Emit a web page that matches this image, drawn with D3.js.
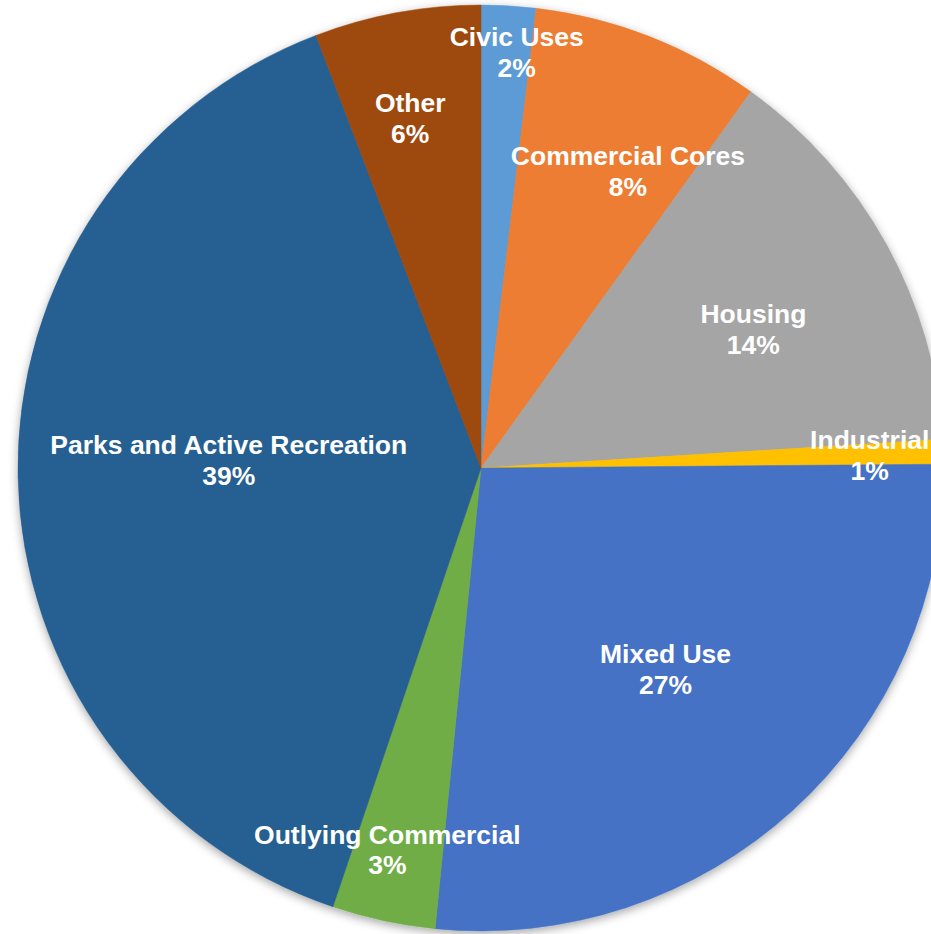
<!DOCTYPE html>
<html>
<head>
<meta charset="utf-8">
<script src="https://cdn.jsdelivr.net/npm/d3@7"></script>
<style>
  html, body { margin: 0; padding: 0; background: #fff; overflow: hidden; }
  svg { display: block; }
</style>
</head>
<body>
<svg id="chart" width="931" height="934"></svg>
<script>
// ---- Data ----
const categories = ["Civic Uses", "Commercial Cores", "Housing", "Industrial",
                    "Mixed Use", "Outlying Commercial", "Parks and Active Recreation", "Other"];
const shares = [1.9, 8.0, 14.1, 0.86, 26.7, 3.6, 39.0, 5.8];
const percentLabels = ["2%", "8%", "14%", "1%", "27%", "3%", "39%", "6%"];
const colors = ["#5B9BD5", "#ED7D31", "#A5A5A5", "#FFC000",
                "#4472C4", "#70AD47", "#255E91", "#9E480E"];

// label placement: [radius fraction, angle offset in degrees]
const labelPlacement = [[0.90, 1.5], [0.715, 5.1], [0.66, 2.0], [0.84, 0.2],
                        [0.59, -0.1], [0.85, 1.6], [0.545, 2.8], [0.77, -1.0]];

const W = 931, H = 934;
const cx = 481, cy = 468, R = 463;

const svg = d3.select("#chart");
const defs = svg.append("defs");
const f = defs.append("filter").attr("id", "shadow")
  .attr("x", "-10%").attr("y", "-10%").attr("width", "120%").attr("height", "120%");
f.append("feDropShadow").attr("dx", 0).attr("dy", 3).attr("stdDeviation", 5)
  .attr("flood-color", "#000").attr("flood-opacity", 0.35);

const g = svg.append("g").attr("transform", `translate(${cx},${cy})`);

const pie = d3.pie().sort(null).value(d => d)(shares);
const arc = d3.arc().innerRadius(0).outerRadius(R);

const slices = g.append("g").attr("filter", "url(#shadow)");
slices.selectAll("path").data(pie).join("path")
  .attr("d", arc)
  .attr("fill", (d, i) => colors[i])
  .attr("stroke", (d, i) => colors[i])
  .attr("stroke-width", 0.5);

const labels = g.append("g")
  .attr("font-family", "'Liberation Sans', Arial, sans-serif")
  .attr("font-weight", "bold")
  .attr("font-size", 26.5)
  .attr("fill", "#fff")
  .attr("text-anchor", "middle");

pie.forEach((d, i) => {
  const [rf, off] = labelPlacement[i];
  const a = (d.startAngle + d.endAngle) / 2 + off * Math.PI / 180;
  const r = rf * R;
  const x = Math.sin(a) * r, y = -Math.cos(a) * r;
  const t = labels.append("text").attr("transform", `translate(${x},${y})`);
  t.append("tspan").attr("x", 0).attr("y", -16).attr("dy", "0.35em").text(categories[i]);
  t.append("tspan").attr("x", 0).attr("y", 15).attr("dy", "0.35em").text(percentLabels[i]);
});
</script>
</body>
</html>
